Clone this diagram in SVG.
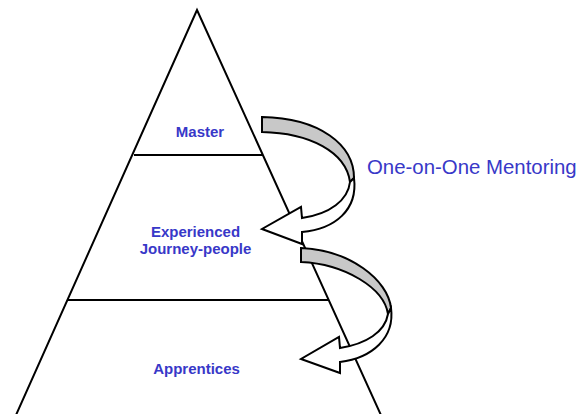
<svg xmlns="http://www.w3.org/2000/svg" width="584" height="414" viewBox="0 0 584 414">
<style>
.ln{fill:none;stroke:#000;stroke-width:2}
.back{fill:#c8c8c8;stroke:#000;stroke-width:2;stroke-linejoin:miter}
.front{fill:#fff;stroke:#000;stroke-width:2;stroke-linejoin:miter}
.lbl{font-family:"Liberation Sans",Arial,sans-serif;font-weight:bold;font-size:15px;fill:#3838c8;text-anchor:middle}
.note{font-family:"Liberation Sans",Arial,sans-serif;font-size:20.4px;fill:#3838c8}
</style>
<rect width="584" height="414" fill="#fff"/>
<g id="pyramid">
<path class="ln" d="M12,424 L197,10 L385,424"/>
<line class="ln" x1="134" y1="155" x2="263" y2="155"/>
<line class="ln" x1="67" y1="300" x2="328" y2="300"/>
</g>
<g id="master"><text class="lbl" x="200" y="137">Master</text></g>
<g id="journey"><text class="lbl" x="195.5" y="237">Experienced</text><text class="lbl" x="195.5" y="254">Journey-people</text></g>
<g id="apprentices"><text class="lbl" x="196.5" y="374">Apprentices</text></g>
<g id="connectors">
<g id="arrow1">
<path class="back" d="M262,117 L262,132 C310,133 346,152 350,182 L354,178 C354,145 320,118 262,117 Z"/>
<path class="front" d="M354,178 C358,210 335,229 302,232 L302,244 L262,229 L301,207 L302,218 C330,214 348,200 350,182 Z"/>
</g>
<g id="arrow2">
<path class="back" d="M301,248 L301,262 C345,264 384,288 388,314 L391,308 C388,280 350,250 301,248 Z"/>
<path class="front" d="M391,308 C395,338 372,358 340,362 L340,373 L301,359 L339,337 L340,348 C366,344 385,332 388,314 Z"/>
</g>
</g>
<g id="label"><text class="note" x="367" y="174">One-on-One Mentoring</text></g>
</svg>
